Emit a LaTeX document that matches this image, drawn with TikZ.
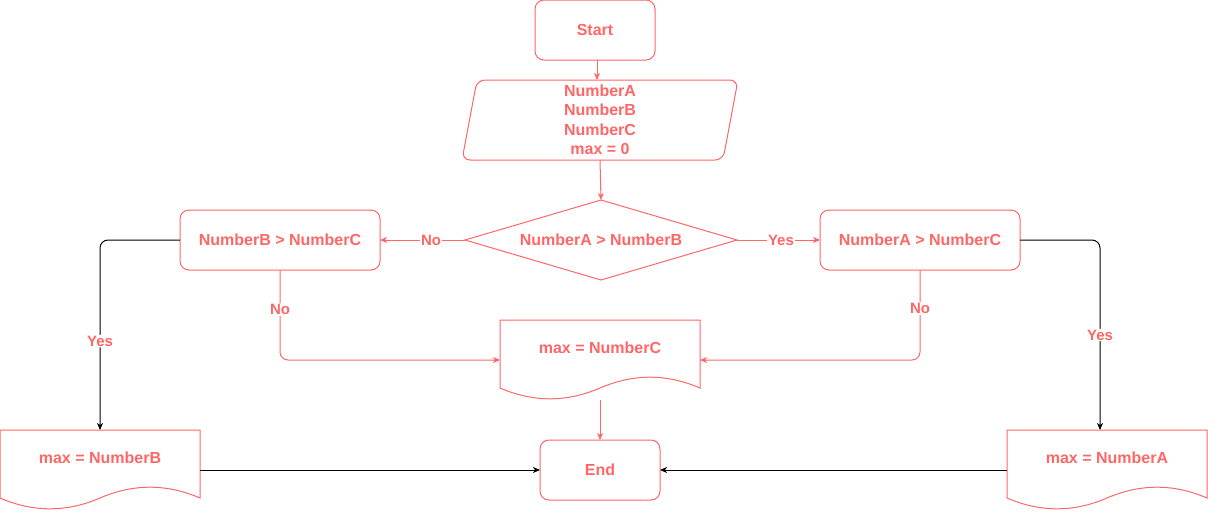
\documentclass[tikz,border=0pt]{standalone}
\usepackage{fontspec}
\setmainfont{Liberation Sans}
\usetikzlibrary{arrows.meta,calc}
\definecolor{fc}{HTML}{FF6666}
\newcommand\docpath[1]{%
  \draw[shapeline] (#1.north west) -- (#1.north east) -- ([yshift=-68pt]#1.north east)
    .. controls ([shift={(-33.33pt,-53.6pt)}]#1.north east) and ([shift={(133.33pt,-53.6pt)}]#1.north west)
    .. ([shift={(100pt,-68pt)}]#1.north west)
    .. controls ([shift={(66.67pt,-82.4pt)}]#1.north west) and ([shift={(33.33pt,-82.4pt)}]#1.north west)
    .. ([yshift=-68pt]#1.north west) -- cycle;}
\begin{document}
\begin{tikzpicture}[x=1pt,y=-1pt,
  shapeline/.style={draw=fc,line width=1pt},
  ntext/.style={text=fc,font=\fontsize{16}{19.5}\selectfont\bfseries,align=center},
  rbox/.style={shapeline,ntext,rounded corners=9pt,inner sep=0pt,outer sep=0pt},
  ghost/.style={draw=none,inner sep=0pt,outer sep=0pt},
  lbl/.style={fill=white,text=fc,font=\fontsize{15}{18}\selectfont\bfseries,inner sep=1pt},
  redarrow/.style={draw=fc,line width=1pt,-{Stealth[length=7pt,width=6pt,inset=2pt]}},
  blkarrow/.style={draw=black,line width=1pt,-{Stealth[length=7pt,width=6pt,inset=2pt]}},
]
\useasboundingbox (0,0) rectangle (1208,512);

% Start
\node[rbox,minimum width=120pt,minimum height=60pt] (start) at (595,30) {Start};

% Input parallelogram
\node[ghost,ntext,minimum width=276pt,minimum height=80pt] (in) at (600,120)
  {NumberA\\NumberB\\NumberC\\max = 0};
\draw[shapeline,rounded corners=8pt] ($(in.north west)+(15pt,0)$) -- (in.north east)
  -- ($(in.south east)+(-15pt,0)$) -- (in.south west) -- cycle;

% Decision
\node[ghost,ntext,minimum width=272pt,minimum height=80pt] (dec) at (601,240) {NumberA > NumberB};
\draw[shapeline] (dec.west) -- (dec.north) -- (dec.east) -- (dec.south) -- cycle;

% Side decisions
\node[rbox,minimum width=200pt,minimum height=60pt] (lb) at (280,240) {NumberB > NumberC};
\node[rbox,minimum width=200pt,minimum height=60pt] (rb) at (920,240) {NumberA > NumberC};

% Documents
\node[ghost,minimum width=200pt,minimum height=80pt] (docC) at (600,360) {};
\docpath{docC}
\node[ntext] at (600,348) {max = NumberC};

\node[ghost,minimum width=200pt,minimum height=80pt] (docB) at (100,470) {};
\docpath{docB}
\node[ntext] at (100,458) {max = NumberB};

\node[ghost,minimum width=200pt,minimum height=80pt] (docA) at (1107,470) {};
\docpath{docA}
\node[ntext] at (1107,458) {max = NumberA};

% End
\node[rbox,minimum width=120pt,minimum height=60pt] (end) at (600,470) {End};

% Connectors
\draw[redarrow] ([xshift=2pt]start.south) -- ([xshift=2pt]start.south |- in.north);
\draw[redarrow] (in.south) -- (dec.north);
\draw[redarrow] (dec.west) -- node[lbl,pos=0.4] {No} (lb.east);
\draw[redarrow] (dec.east) -- node[lbl,pos=0.53] {Yes} (rb.west);
\draw[redarrow,rounded corners=8pt] (lb.south) |- node[lbl,pos=0.22] {No} (docC.west);
\draw[redarrow,rounded corners=8pt] (rb.south) |- node[lbl,pos=0.215] {No} (docC.east);
\draw[blkarrow,rounded corners=8pt] (lb.west) -| node[lbl,pos=0.766] {Yes} (docB.north);
\draw[blkarrow,rounded corners=8pt] (rb.east) -| node[lbl,pos=0.75] {Yes} ([xshift=-7pt]docA.north);
\draw[redarrow] (docC.south) -- (end.north);
\draw[blkarrow] (docB.east) -- (end.west);
\draw[blkarrow] (docA.west) -- (end.east);
\end{tikzpicture}
\end{document}
